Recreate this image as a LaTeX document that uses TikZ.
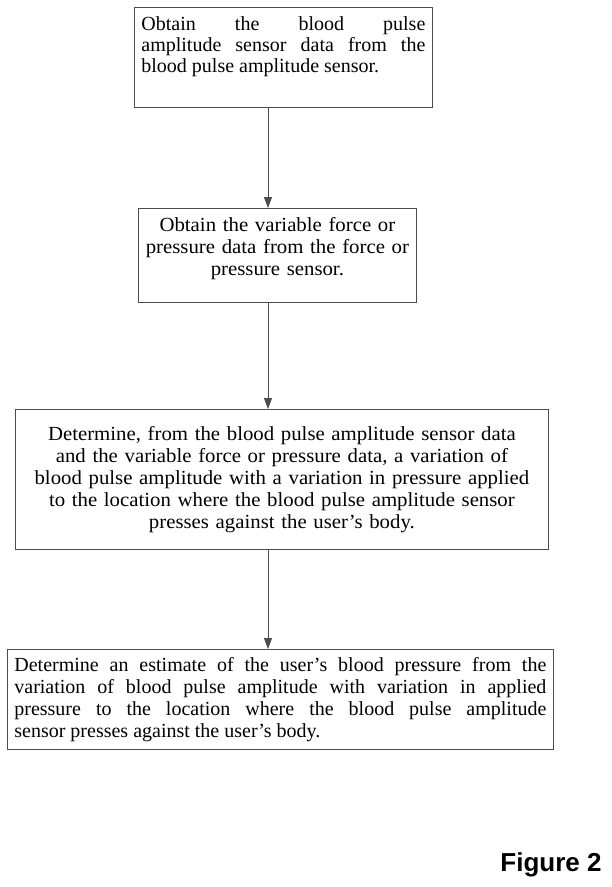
\documentclass[tikz,border=0pt]{standalone}
\usepackage{fontspec}
\setmainfont{Liberation Serif}
\newfontfamily\wideserif[FakeStretch=1.04, Ligatures=TeX]{Liberation Serif}
\newfontfamily\figfont{Liberation Sans}
\usetikzlibrary{arrows.meta}

\begin{document}
\begin{tikzpicture}[x=1pt, y=-1pt,
    box/.style={draw=black!70, line width=0.8pt, inner xsep=7pt, inner ysep=4pt, anchor=north west},
    tight/.style={font=\fontsize{20}{21}\selectfont, align=justify},
    loose/.style={font=\wideserif\fontsize{20}{22}\selectfont, align=center},
    flow/.style={-{Triangle[width=8pt, length=11pt]}, draw=black!70, line width=0.8pt}]

      \useasboundingbox (0,0) rectangle (611,887);

      \coordinate (spine) at (268,0);

      \node[box, tight, text width=284pt, text height=19pt, text depth=73pt] (pulsedata) at (134,7)
      {Obtain the blood pulse\linebreak
        amplitude sensor data from the blood pulse amplitude sensor.};

      \node[box, loose, text width=264pt, text height=19pt, text depth=67pt] (forcedata) at (138,208)
      {Obtain the variable force or\\
        pressure data from the force or\\
        pressure sensor.};

      \node[box, loose, text width=519pt, text height=27pt, text depth=105pt] (variation) at (15,409)
      {Determine, from the blood pulse amplitude sensor data\\
        and the variable force or pressure data, a variation of\\
        blood pulse amplitude with a variation in pressure applied\\
        to the location where the blood pulse amplitude sensor\\
        presses against the user's body.};

      \node[box, tight, font=\fontsize{20}{22}\selectfont, text width=532pt, text height=18pt, text depth=74pt] (estimate) at (7,649)
      {Determine an estimate of the user's blood pressure from the\linebreak
        variation of blood pulse amplitude with variation in applied\linebreak
        pressure to the location where the blood pulse amplitude\linebreak
        sensor presses against the user's body.};

      \node[font=\figfont\bfseries\fontsize{26}{30}\selectfont] (figlabel) at (551,865) {Figure 2};

      \draw[flow] (pulsedata.south -| spine) -- (forcedata.north -| spine);
      \draw[flow] (forcedata.south -| spine) -- (variation.north -| spine);
      \draw[flow] (variation.south -| spine) -- (estimate.north -| spine);
    \end{tikzpicture}
\end{document}
